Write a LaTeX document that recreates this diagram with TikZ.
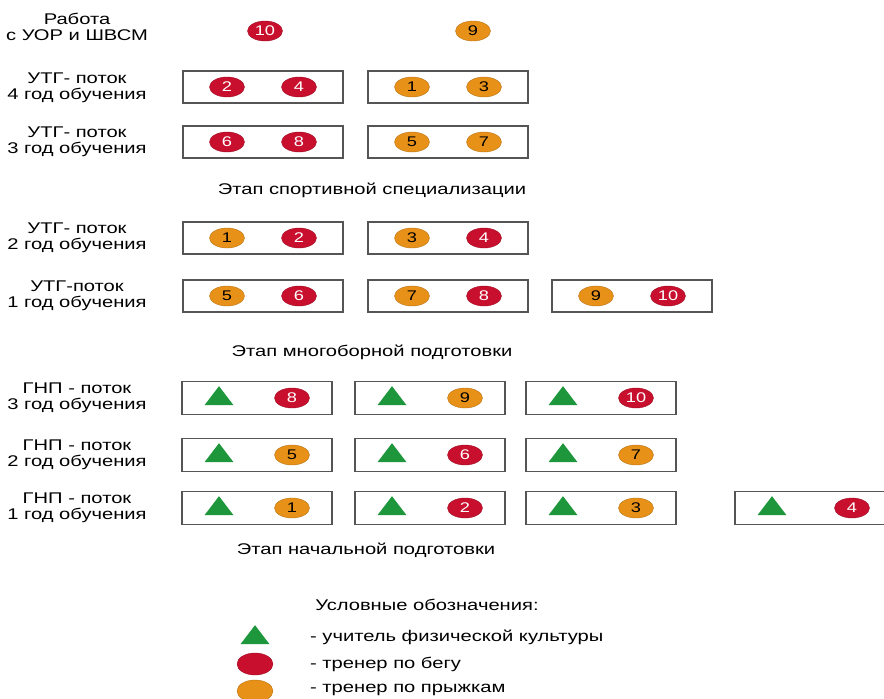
\documentclass[tikz,border=0pt]{standalone}
\usepackage{fontspec}
\setmainfont{Liberation Sans}[FakeStretch=1.3]
\usepackage{xcolor}
\usetikzlibrary{shapes.geometric, positioning}

\definecolor{runred}{RGB}{200,16,46}
\definecolor{jumporange}{RGB}{232,145,25}
\definecolor{pegreen}{RGB}{30,150,60}
\definecolor{boxgray}{RGB}{85,85,85}

\begin{document}
\begin{tikzpicture}[
    x=1pt, y=-1pt,
    every node/.style={font=\fontsize{15.5}{15.5}\selectfont},
    rowlabel/.style={align=center, inner sep=0pt},
    stagetitle/.style={inner sep=0pt},
    utgbox/.style={rectangle, draw=boxgray, line width=1.4pt, minimum width=160pt, minimum height=32pt, inner sep=0pt},
    gnpbox/.style={rectangle, draw=boxgray, line width=1.4pt, minimum width=150pt, minimum height=33pt, inner sep=0pt},
    runner/.style={ellipse, fill=runred, draw=runred!80!black, line width=0.4pt, minimum width=35pt, minimum height=20pt, inner sep=0pt, text=white, font=\fontsize{14}{14}\selectfont},
    jumper/.style={ellipse, fill=jumporange, draw=jumporange!80!black, line width=0.4pt, minimum width=35pt, minimum height=20pt, inner sep=0pt, text=black, font=\fontsize{14}{14}\selectfont},
    teacher/.style={isosceles triangle, isosceles triangle stretches, shape border rotate=90, fill=pegreen, minimum width=29pt, minimum height=19pt, inner sep=0pt}
]
\useasboundingbox (0,0) rectangle (884,699);

% Work with UOR and ShVSM
\node[rowlabel] (lbl0) at (77,27) {Работа\\с УОР и ШВСМ};
\node[runner] (r0a) at (265,31) {10};
\node[jumper] (r0b) at (473,31) {9};

% UTG 4th year
\node[rowlabel] (lbl1) at (77,88) {УТГ- поток\\4 год обучения};
\node[utgbox] (b11) at (263,87) {};
\node[utgbox] (b12) at (448,87) {};
\node[runner] at ([xshift=-36pt]b11.center) (c111) {2};
\node[runner] at ([xshift=36pt]b11.center) (c112) {4};
\node[jumper] at ([xshift=-36pt]b12.center) (c121) {1};
\node[jumper] at ([xshift=36pt]b12.center) (c122) {3};

% UTG 3rd year
\node[rowlabel] (lbl2) at (77,142) {УТГ- поток\\3 год обучения};
\node[utgbox] (b21) at (263,142) {};
\node[utgbox] (b22) at (448,142) {};
\node[runner] at ([xshift=-36pt]b21.center) (c211) {6};
\node[runner] at ([xshift=36pt]b21.center) (c212) {8};
\node[jumper] at ([xshift=-36pt]b22.center) (c221) {5};
\node[jumper] at ([xshift=36pt]b22.center) (c222) {7};

\node[stagetitle] (st1) at (372,190) {Этап спортивной специализации};

% UTG 2nd year
\node[rowlabel] (lbl3) at (77,238) {УТГ- поток\\2 год обучения};
\node[utgbox] (b31) at (263,238) {};
\node[utgbox] (b32) at (448,238) {};
\node[jumper] at ([xshift=-36pt]b31.center) (c311) {1};
\node[runner] at ([xshift=36pt]b31.center) (c312) {2};
\node[jumper] at ([xshift=-36pt]b32.center) (c321) {3};
\node[runner] at ([xshift=36pt]b32.center) (c322) {4};

% UTG 1st year
\node[rowlabel] (lbl4) at (77,296) {УТГ-поток\\1 год обучения};
\node[utgbox] (b41) at (263,296) {};
\node[utgbox] (b42) at (448,296) {};
\node[utgbox] (b43) at (632,296) {};
\node[jumper] at ([xshift=-36pt]b41.center) (c411) {5};
\node[runner] at ([xshift=36pt]b41.center) (c412) {6};
\node[jumper] at ([xshift=-36pt]b42.center) (c421) {7};
\node[runner] at ([xshift=36pt]b42.center) (c422) {8};
\node[jumper] at ([xshift=-36pt]b43.center) (c431) {9};
\node[runner] at ([xshift=36pt]b43.center) (c432) {10};

\node[stagetitle] (st2) at (372,352) {Этап многоборной подготовки};

% GNP 3rd year
\node[rowlabel] (lbl5) at (77,398) {ГНП - поток\\3 год обучения};
\node[gnpbox] (g31) at (257,398) {};
\node[gnpbox] (g32) at (430,398) {};
\node[gnpbox] (g33) at (601,398) {};
\node[teacher] at ([xshift=-38pt]g31.center) (t31) {};
\node[runner] at ([xshift=35pt]g31.center) (d31) {8};
\node[teacher] at ([xshift=-38pt]g32.center) (t32) {};
\node[jumper] at ([xshift=35pt]g32.center) (d32) {9};
\node[teacher] at ([xshift=-38pt]g33.center) (t33) {};
\node[runner] at ([xshift=35pt]g33.center) (d33) {10};

% GNP 2nd year
\node[rowlabel] (lbl6) at (77,455) {ГНП - поток\\2 год обучения};
\node[gnpbox] (g21) at (257,455) {};
\node[gnpbox] (g22) at (430,455) {};
\node[gnpbox] (g23) at (601,455) {};
\node[teacher] at ([xshift=-38pt]g21.center) (t21) {};
\node[jumper] at ([xshift=35pt]g21.center) (d21) {5};
\node[teacher] at ([xshift=-38pt]g22.center) (t22) {};
\node[runner] at ([xshift=35pt]g22.center) (d22) {6};
\node[teacher] at ([xshift=-38pt]g23.center) (t23) {};
\node[jumper] at ([xshift=35pt]g23.center) (d23) {7};

% GNP 1st year
\node[rowlabel] (lbl7) at (77,508) {ГНП - поток\\1 год обучения};
\node[gnpbox] (g11) at (257,508) {};
\node[gnpbox] (g12) at (430,508) {};
\node[gnpbox] (g13) at (601,508) {};
\node[gnpbox] (g14) at (810,508) {};
\node[teacher] at ([xshift=-38pt]g11.center) (t11) {};
\node[jumper] at ([xshift=35pt]g11.center) (d11) {1};
\node[teacher] at ([xshift=-38pt]g12.center) (t12) {};
\node[runner] at ([xshift=35pt]g12.center) (d12) {2};
\node[teacher] at ([xshift=-38pt]g13.center) (t13) {};
\node[jumper] at ([xshift=35pt]g13.center) (d13) {3};
\node[teacher] at ([xshift=-38pt]g14.center) (t14) {};
\node[runner] at ([xshift=42pt]g14.center) (d14) {4};

\node[stagetitle] (st3) at (366,550) {Этап начальной подготовки};

% Legend
\node[stagetitle] (leg) at (427,605) {Условные обозначения:};
\node[teacher] (legt) at (255,637) {};
\node[runner, minimum width=36pt, minimum height=22pt] (legr) at (255,664) {};
\node[jumper, minimum width=36pt, minimum height=22pt] (lego) at (255,691) {};
\node[anchor=west, inner sep=0pt] (legtt) at (310,637) {- учитель физической культуры};
\node[anchor=west, inner sep=0pt] (legrt) at (310,664) {- тренер по бегу};
\node[anchor=west, inner sep=0pt] (legot) at (310,690) {- тренер по прыжкам};
\end{tikzpicture}
\end{document}
